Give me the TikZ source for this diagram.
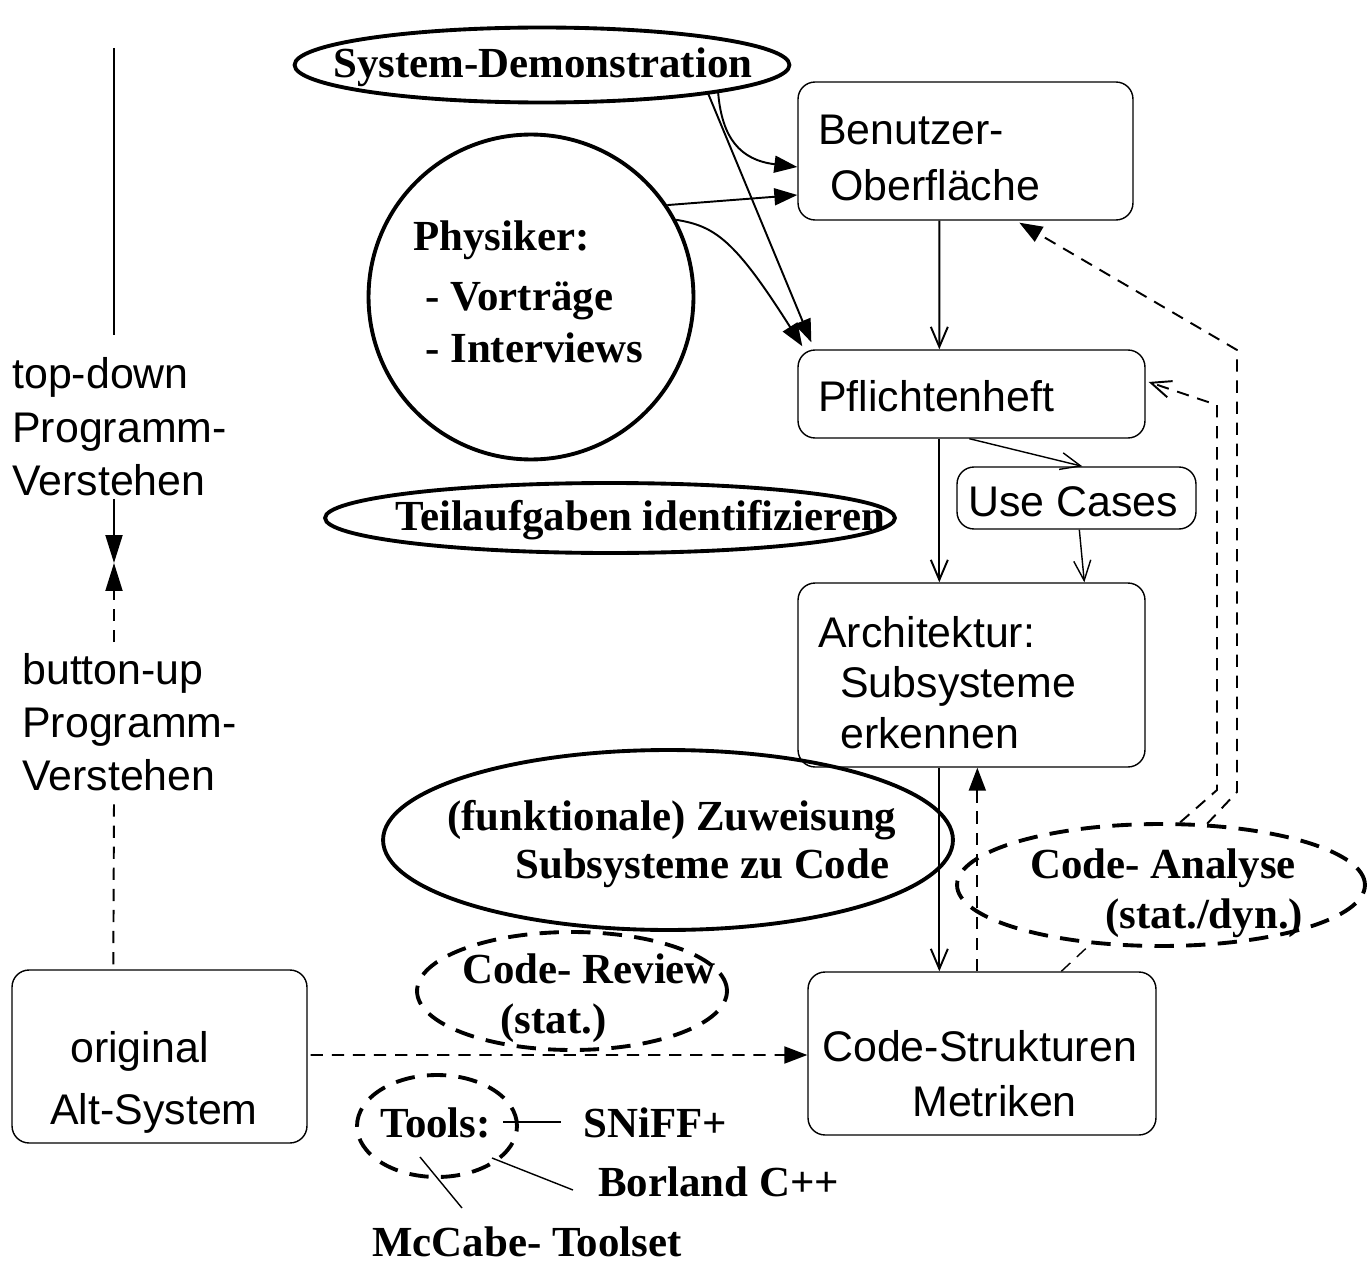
\documentclass[tikz,border=0pt]{standalone}
\usepackage{fontspec}
\setmainfont{Liberation Serif}
\setsansfont{Liberation Sans}
\usetikzlibrary{arrows.meta,shapes.geometric,calc}
\begin{document}
\begin{tikzpicture}[x=0.02cm,y=-0.02cm,
  box/.style={draw, rounded corners=0.34cm, line width=0.8pt, inner sep=0pt},
  sf/.style={font=\sffamily\fontsize{24.4}{29}\selectfont, inner sep=0pt, anchor=base west},
  bf/.style={font=\rmfamily\bfseries\fontsize{24.4}{29}\selectfont, inner sep=0pt, anchor=base west},
  oval/.style={ellipse, draw, line width=2.2pt, inner sep=0pt},
  doval/.style={oval, dash pattern=on 11pt off 7pt},
  conn/.style={line width=1.1pt},
  thin/.style={line width=0.8pt},
  tri/.style={-{Triangle[length=0.46cm,width=0.34cm]}},
  longtri/.style={-{Triangle[length=0.56cm,width=0.34cm]}},
  barb/.style={-{Straight Barb[length=0.4cm,width=0.34cm]}},
  dsh/.style={dash pattern=on 7pt off 5pt}]
\useasboundingbox (0,0) rectangle (1370,1264);

% ---- left axis
\coordinate (axtop) at (114,48);
\coordinate (axbot) at (114,335);
\draw[conn] (axtop) -- (axbot);
\node[sf] (td1) at (12,388) {top-down};
\node[sf] (td2) at (12,442) {Programm-};
\node[sf] (td3) at (12,495) {Verstehen};
\node[sf] (bu1) at (22,684) {button-up};
\node[sf] (bu2) at (22,737) {Programm-};
\node[sf] (bu3) at (22,790) {Verstehen};
\coordinate (meet) at (114,563);
\coordinate (gaptop) at (114,642);
\coordinate (gapbot) at (114,800);
\draw[conn,longtri] ($(td3.base west)+(102,4)$) -- (meet);

% ---- boxes
\node[box, minimum width=6.7cm, minimum height=2.76cm] (bo) at (965.5,151) {};
\node[sf] (bot1) at (818,145) {Benutzer-};
\node[sf] (bot2) at (830,200) {Oberfläche};
\node[box, minimum width=6.94cm, minimum height=1.76cm] (pf) at (971.5,394) {};
\node[sf] (pft) at (818,411) {Pflichtenheft};
\node[box, minimum width=4.78cm, minimum height=1.24cm] (uc) at (1076.5,498) {};
\node[sf] (uct) at (968,516) {Use Cases};
\node[box, minimum width=6.94cm, minimum height=3.68cm] (ar) at (971.5,675) {};
\node[sf] (art1) at (818,647) {Architektur:};
\node[sf] (art2) at (840,697) {Subsysteme};
\node[sf] (art3) at (840,748) {erkennen};
\node[box, minimum width=6.96cm, minimum height=3.26cm] (cs) at (982,1053.5) {};
\node[sf] (cst1) at (822,1061) {Code-Strukturen};
\node[sf] (cst2) at (912,1116) {Metriken};
\node[box, minimum width=5.9cm, minimum height=3.46cm] (alt) at (159.5,1056.5) {};
\node[sf] (altt1) at (70,1062) {original};
\node[sf] (altt2) at (50,1124) {Alt-System};

\draw[conn,dsh] ($(alt.north west)+(102,-5)$) -- (gapbot);
\draw[conn,dsh,longtri] (gaptop) -- (meet);

% ---- ovals
\node[oval, minimum width=9.9cm, minimum height=1.5cm] (sd) at (542,65) {};
\node[bf] (sdt) at (333,78) {System-Demonstration};
\node[oval, circle, minimum size=6.5cm] (phys) at (531,297) {};
\node[bf] (ph1) at (413,250) {Physiker:};
\node[bf] (ph2) at (425,310) {- Vorträge};
\node[bf] (ph3) at (425,362) {- Interviews};
\node[oval, minimum width=11.4cm, minimum height=1.4cm] (teil) at (610,518) {};
\node[bf] (teilt) at (395,530) {Teilaufgaben identifizieren};
\node[oval, minimum width=11.4cm, minimum height=3.6cm] (funk) at (668,840) {};
\node[bf] (fu1) at (447,830) {(funktionale) Zuweisung};
\node[bf] (fu2) at (515,878) {Subsysteme zu Code};
\node[doval, minimum width=8.16cm, minimum height=2.44cm] (ca) at (1161,885) {};
\node[bf] (ca1) at (1030,878) {Code- Analyse};
\node[bf] (ca2) at (1105,928) {(stat./dyn.)};
\node[doval, minimum width=6.2cm, minimum height=2.36cm] (cr) at (572,991) {};
\node[bf] (cr1) at (462,983) {Code- Review};
\node[bf] (cr2) at (500,1033) {(stat.)};
\node[doval, minimum width=3.2cm, minimum height=2.04cm] (tools) at (437,1126) {};
\node[bf] (toolst) at (380,1137) {Tools:};
\node[bf] (sniff) at (583,1137) {SNiFF+};
\node[bf] (borland) at (598,1196) {Borland C++};
\node[bf] (mccabe) at (372,1256) {McCabe- Toolset};

% ---- connectors
\draw[conn,barb] ($(bo.south west)+(142,0)$) -- ($(pf.north west)+(142,0)$);
\draw[conn,barb] ($(pf.south west)+(142,0)$) -- ($(ar.north west)+(142,0)$);
\draw[thin,barb] ($(pf.south west)+(172,0)$) -- ($(uc.north west)+(126,0)$);
\draw[thin,barb] ($(uc.south west)+(123,0)$) -- ($(ar.north west)+(287,0)$);
\draw[conn,barb] ($(ar.south west)+(142,0)$) -- ($(cs.north west)+(132,0)$);
\draw[conn,dsh,tri] ($(cs.north west)+(170,0)$) -- ($(ar.south west)+(180,0)$);
\draw[conn,dsh,tri] ($(alt.east)+(3,-1.5)$) -- ($(cs.west)+(0,1.5)$);

\draw[conn,tri] (sd.-10.5) -- ($(pf.north west)+(14,-7)$);
\draw[conn,tri] (sd.-9) .. controls (722,138) and (740,160) .. ($(bo.west)+(0,16)$);
\draw[conn,tri] (phys.34) -- ($(bo.west)+(0,44)$);
\draw[conn,tri] (phys.28) .. controls (715,226) and (735,240) .. ($(pf.north west)+(5,-3)$);

\draw[conn,dsh,tri] (ca.53) -- (1237,792) -- (1237,350) -- ($(bo.south west)+(222,2)$);
\draw[conn,dsh,barb] (ca.73) -- (1217,790) -- (1217,405) -- ($(pf.east)+(3,-12)$);
\draw[thin,dsh] ($(cs.north west)+(254,0)$) -- (ca.220);

\draw[thin] ($(tools.center)+(66,-4)$) -- ($(sniff.base west)+(-22,-15)$);
\draw[thin] ($(tools.center)+(55,32)$) -- ($(borland.base west)+(-25,-6)$);
\draw[thin] ($(tools.center)+(-17,31)$) -- ($(mccabe.base west)+(90,-48)$);
\end{tikzpicture}
\end{document}
